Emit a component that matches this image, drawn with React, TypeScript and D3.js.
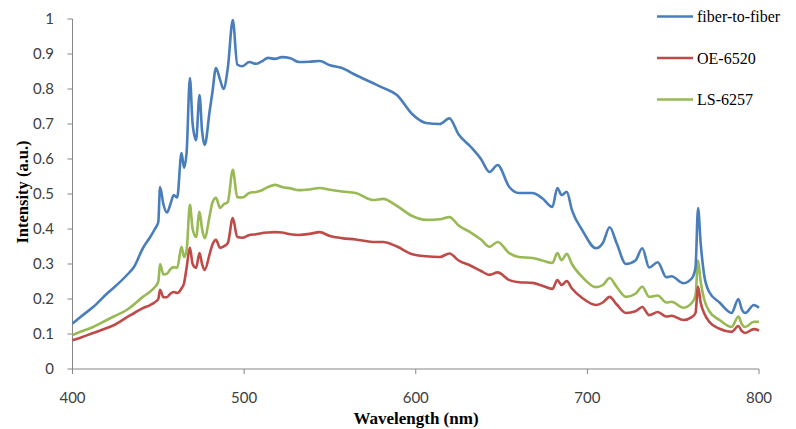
import React from "react";
import * as d3 from "d3";

const wavelengths = [400, 405, 412, 420, 424, 432, 436, 441, 445, 448, 450, 451, 453, 455, 457, 459, 461, 463.5, 465, 466.5, 468.4, 470, 472, 474, 475.5, 477, 480, 481.5, 483.6, 486, 488, 490.5, 493.4, 496, 499, 503, 507, 510, 514, 518, 522, 527, 532, 538, 544, 550, 557, 565, 575, 581, 589, 598, 606, 614, 619.6, 625, 632, 638, 643, 647.7, 654.5, 660, 668, 673.7, 679.6, 682.5, 685, 688, 691, 697, 705, 709, 713, 717, 722.5, 728, 732, 736, 741, 746, 749, 756, 761, 763, 764.5, 766, 768, 771, 777, 784, 788, 790, 792, 797, 800];

const fiberToFiber = [0.13, 0.15, 0.177, 0.215, 0.232, 0.27, 0.293, 0.345, 0.375, 0.4, 0.42, 0.52, 0.47, 0.447, 0.47, 0.497, 0.49, 0.617, 0.575, 0.62, 0.831, 0.7, 0.654, 0.783, 0.68, 0.64, 0.74, 0.79, 0.86, 0.826, 0.8, 0.86, 0.997, 0.87, 0.865, 0.877, 0.872, 0.878, 0.889, 0.886, 0.891, 0.888, 0.877, 0.878, 0.88, 0.868, 0.86, 0.84, 0.817, 0.803, 0.783, 0.728, 0.703, 0.7, 0.716, 0.67, 0.635, 0.6, 0.563, 0.583, 0.52, 0.503, 0.503, 0.488, 0.463, 0.517, 0.497, 0.506, 0.454, 0.397, 0.345, 0.36, 0.405, 0.36, 0.3, 0.31, 0.345, 0.29, 0.305, 0.262, 0.265, 0.245, 0.26, 0.29, 0.46, 0.36, 0.27, 0.22, 0.19, 0.16, 0.2, 0.17, 0.16, 0.183, 0.175];

const oe6520 = [0.082, 0.09, 0.103, 0.117, 0.125, 0.149, 0.16, 0.174, 0.182, 0.191, 0.2, 0.226, 0.205, 0.205, 0.215, 0.22, 0.217, 0.23, 0.245, 0.29, 0.346, 0.3, 0.289, 0.331, 0.3, 0.283, 0.33, 0.355, 0.369, 0.346, 0.35, 0.36, 0.431, 0.377, 0.375, 0.383, 0.385, 0.388, 0.39, 0.391, 0.39, 0.385, 0.383, 0.386, 0.391, 0.38, 0.374, 0.37, 0.363, 0.363, 0.35, 0.328, 0.322, 0.32, 0.33, 0.31, 0.295, 0.28, 0.269, 0.276, 0.254, 0.248, 0.246, 0.238, 0.229, 0.254, 0.24, 0.251, 0.23, 0.203, 0.183, 0.19, 0.206, 0.185, 0.16, 0.165, 0.177, 0.154, 0.163, 0.15, 0.152, 0.14, 0.149, 0.16, 0.235, 0.19, 0.16, 0.135, 0.115, 0.106, 0.123, 0.108, 0.103, 0.114, 0.11];

const ls6257 = [0.097, 0.107, 0.12, 0.14, 0.15, 0.17, 0.185, 0.206, 0.22, 0.234, 0.25, 0.3, 0.27, 0.272, 0.285, 0.291, 0.289, 0.349, 0.32, 0.34, 0.469, 0.4, 0.377, 0.449, 0.4, 0.374, 0.44, 0.475, 0.489, 0.46, 0.47, 0.477, 0.569, 0.491, 0.49, 0.503, 0.506, 0.51, 0.52, 0.526, 0.52, 0.516, 0.511, 0.513, 0.517, 0.512, 0.507, 0.503, 0.483, 0.486, 0.466, 0.437, 0.426, 0.428, 0.434, 0.41, 0.39, 0.37, 0.349, 0.363, 0.331, 0.32, 0.317, 0.31, 0.303, 0.331, 0.311, 0.329, 0.3, 0.263, 0.234, 0.24, 0.26, 0.235, 0.206, 0.215, 0.235, 0.206, 0.21, 0.19, 0.192, 0.175, 0.19, 0.21, 0.31, 0.25, 0.2, 0.165, 0.14, 0.12, 0.15, 0.128, 0.12, 0.135, 0.135];

const seriesNames = ["fiber-to-fiber", "OE-6520", "LS-6257"];
const seriesColors = ["#4a7ebb", "#be4b48", "#98b954"];
const xTicks = [400, 500, 600, 700, 800];
const yTicks = [0, 0.1, 0.2, 0.3, 0.4, 0.5, 0.6, 0.7, 0.8, 0.9, 1];

export default function App() {
  const W = 796, H = 429;
  const x = d3.scaleLinear().domain([400, 800]).range([72.5, 759]);
  const y = d3.scaleLinear().domain([0, 1]).range([369, 19]);
  const allSeries = [fiberToFiber, oe6520, ls6257];
  const line = d3
    .line<number>()
    .x((_, i) => x(wavelengths[i]))
    .y((d) => y(d))
    .curve(d3.curveMonotoneX);
  const axisColor = "#868686";
  const tickFont = "Lato, 'Open Sans', sans-serif";
  const serif = "'Liberation Serif', 'Times New Roman', serif";
  const order = [2, 1, 0];
  return (
    <svg width={W} height={H} style={{ position: "absolute", left: 0, top: 0, background: "#fff" }}>
      <rect x={0} y={0} width={W} height={H} fill="#fff" />
      <line x1={x(400)} x2={x(400)} y1={y(1)} y2={y(0)} stroke={axisColor} strokeWidth={1} />
      <line x1={x(400)} x2={x(800)} y1={y(0)} y2={y(0)} stroke={axisColor} strokeWidth={1} />
      {yTicks.map((t) => (
        <g key={"y" + t}>
          <line x1={x(400) - 5} x2={x(400)} y1={y(t)} y2={y(t)} stroke={axisColor} />
          <text x={54} y={y(t)} dy="0.35em" textAnchor="end" fontFamily={tickFont} fontSize={15} fill="#404040">
            {d3.format("")(t)}
          </text>
        </g>
      ))}
      {xTicks.map((t) => (
        <g key={"x" + t}>
          <line x1={x(t)} x2={x(t)} y1={y(0)} y2={y(0) + 5} stroke={axisColor} />
          <text x={x(t)} y={398} dy="0.35em" textAnchor="middle" fontFamily={tickFont} fontSize={15} fill="#404040">
            {t}
          </text>
        </g>
      ))}
      {order.map((si) => (
        <path key={si} d={line(allSeries[si]) || ""} fill="none" stroke={seriesColors[si]} strokeWidth={2.6} strokeLinejoin="round" />
      ))}
      <text x={416} y={418} dy="0.35em" textAnchor="middle" fontFamily={serif} fontWeight="bold" fontSize={17} fill="#000">
        Wavelength (nm)
      </text>
      <text transform={`translate(22,192) rotate(-90)`} dy="0.35em" textAnchor="middle" fontFamily={serif} fontWeight="bold" fontSize={16.5} fill="#000">
        Intensity (a.u.)
      </text>
      {seriesNames.map((n, i) => (
        <g key={n}>
          <line x1={657} x2={693} y1={16.5 + i * 41.5} y2={16.5 + i * 41.5} stroke={seriesColors[i]} strokeWidth={2.6} />
          <text x={697} y={16.5 + i * 41.5} dy="0.35em" fontFamily={serif} fontSize={16} fill="#000">
            {n}
          </text>
        </g>
      ))}
    </svg>
  );
}
